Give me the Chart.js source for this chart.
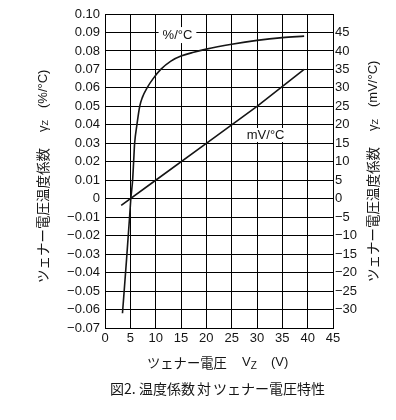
<!DOCTYPE html>
<html>
<head>
<meta charset="utf-8">
<script src="https://cdn.jsdelivr.net/npm/chart.js@4/dist/chart.umd.min.js"></script>
<style>
html,body{margin:0;padding:0;background:#fff;}
#wrap{width:396px;height:420px;}
</style>
</head>
<body>
<div id="wrap"><canvas id="c" width="396" height="420"></canvas></div>
<script>
// Zener voltage (V) and temperature coefficient readings
const vzPercent = [3.45, 4.25, 4.9, 5.1, 5.45, 5.65, 5.85, 6.3, 6.85, 7.4, 8.3, 9.5, 11, 13, 15, 17.5, 20, 25, 30, 35, 39.3];
const tcPercent = [-0.062, -0.033, -0.008, 0.0, 0.01, 0.02, 0.03, 0.04, 0.05, 0.055, 0.06, 0.065, 0.07, 0.0745, 0.0772, 0.0793, 0.081, 0.0836, 0.0857, 0.0872, 0.088];
const vzMv = [3.2, 10, 20, 30, 39.3];
const tcMv = [-1.8, 5, 15, 25, 35];

const xTitle = ['ツェナー電圧', 'V', 'Z', '(V)'];
const yTitleParts = ['ツェナー電圧温度係数', 'γ', 'Z'];
const yLeftUnit = '(%/°C)';
const yRightUnit = '(mV/°C)';
const captionParts = ['図2.', '温度係数', '対', 'ツェナー電圧特性'];
const labelPercent = '%/°C';
const labelMv = 'mV/°C';

const INK = '#151515';
const LAT = '"Liberation Sans", Arial, sans-serif';
const JP = '"Noto Sans CJK JP", sans-serif';

const toPts = (xs, ys) => xs.map((x, i) => ({x: x, y: ys[i]}));
const minus = s => s.replace('-', '\u2212');

const annot = {
  id: 'annot',
  afterDatasetsDraw(chart) {
    const ctx = chart.ctx;
    const xs = chart.scales.x, ys = chart.scales.y;
    ctx.save();
    ctx.font = '13px ' + LAT;
    ctx.textBaseline = 'middle';
    ctx.textAlign = 'center';
    // %/°C label on the 0.09 line
    let cx = xs.getPixelForValue(14.3), cy = ys.getPixelForValue(0.0886);
    let w = ctx.measureText(labelPercent).width;
    ctx.fillStyle = '#fff';
    ctx.fillRect(cx - w / 2 - 4, cy - 8, w + 8, 16);
    ctx.fillStyle = INK;
    ctx.fillText(labelPercent, cx, cy);
    // mV/°C label
    cx = xs.getPixelForValue(31.7); cy = ys.getPixelForValue(0.0345);
    w = ctx.measureText(labelMv).width;
    ctx.fillStyle = '#fff';
    ctx.fillRect(cx - w / 2 - 2, cy - 7, w + 4, 14);
    ctx.fillStyle = INK;
    ctx.fillText(labelMv, cx, cy);
    ctx.restore();
  },
  afterDraw(chart) {
    const ctx = chart.ctx;
    ctx.save();
    ctx.fillStyle = INK;
    ctx.textBaseline = 'middle';
    ctx.textAlign = 'left';
    function vtitle(cx, yBottomJp, yGamma, yUnitBottom, unit) {
      ctx.save();
      ctx.translate(cx, 0);
      ctx.rotate(-Math.PI / 2);
      ctx.font = '13.5px ' + JP;
      ctx.fillText(yTitleParts[0], -yBottomJp, 0);
      ctx.font = '13px ' + LAT;
      ctx.fillText(yTitleParts[1], -yGamma, 0);
      const gw = ctx.measureText(yTitleParts[1]).width;
      ctx.font = '9px ' + LAT;
      ctx.fillText(yTitleParts[2], -yGamma + gw, 3);
      ctx.font = '13px ' + LAT;
      ctx.fillText(unit, -yUnitBottom, 0);
      ctx.restore();
    }
    vtitle(43, 283, 132, 108, yLeftUnit);
    vtitle(373, 282, 131, 107, yRightUnit);
    // x title
    ctx.font = '13.3px ' + JP;
    ctx.fillText(xTitle[0], 147, 363);
    ctx.font = '13px ' + LAT;
    ctx.fillText(xTitle[1], 242, 362);
    const vw = ctx.measureText(xTitle[1]).width;
    ctx.font = '10px ' + LAT;
    ctx.fillText(xTitle[2], 242 + vw, 366);
    ctx.font = '13px ' + LAT;
    ctx.fillText(xTitle[3], 271, 362);
    // caption
    ctx.font = '14px ' + JP;
    const capX = [110, 139, 197, 213];
    captionParts.forEach((t, i) => ctx.fillText(t, capX[i], 389));
    ctx.restore();
  }
};

new Chart(document.getElementById('c'), {
  type: 'line',
  data: {
    datasets: [
      {
        label: labelPercent,
        data: toPts(vzPercent, tcPercent),
        yAxisID: 'y',
        borderColor: INK,
        borderWidth: 1.6,
        pointRadius: 0,
        fill: false,
        cubicInterpolationMode: 'monotone'
      },
      {
        label: labelMv,
        data: toPts(vzMv, tcMv),
        yAxisID: 'y2',
        borderColor: INK,
        borderWidth: 1.6,
        pointRadius: 0,
        fill: false,
        tension: 0
      }
    ]
  },
  options: {
    responsive: false,
    animation: false,
    devicePixelRatio: 1,
    layout: {padding: {top: 14, left: 0, right: 0, bottom: 0}},
    plugins: {legend: {display: false}, tooltip: {enabled: false}},
    scales: {
      x: {
        type: 'linear',
        min: 0, max: 45,
        grid: {color: '#000', lineWidth: 1, drawTicks: false},
        border: {color: '#000', width: 1},
        ticks: {
          stepSize: 5, padding: 3, color: INK, autoSkip: false,
          font: {family: LAT, size: 13},
          maxRotation: 0,
          callback: v => String(v)
        },
        afterFit: s => { s.height = 92; }
      },
      y: {
        position: 'left',
        min: -0.07, max: 0.10,
        grid: {color: '#000', lineWidth: 1, drawTicks: false},
        border: {color: '#000', width: 1},
        ticks: {
          stepSize: 0.01, padding: 5, color: INK, autoSkip: false,
          font: {family: LAT, size: 13},
          callback: v => Math.abs(v) < 1e-9 ? '0' : minus(v.toFixed(2))
        },
        afterFit: s => { s.width = 105; }
      },
      y2: {
        position: 'right',
        min: -35, max: 50,
        grid: {display: false, drawTicks: false},
        border: {color: '#000', width: 1},
        ticks: {
          stepSize: 5, padding: 2, color: INK, autoSkip: false,
          font: {family: LAT, size: 13},
          callback: v => (v >= 50 || v <= -35) ? '' : minus(String(Math.round(v)))
        },
        afterFit: s => { s.width = 63; }
      }
    }
  },
  plugins: [annot]
});
</script>
</body>
</html>
